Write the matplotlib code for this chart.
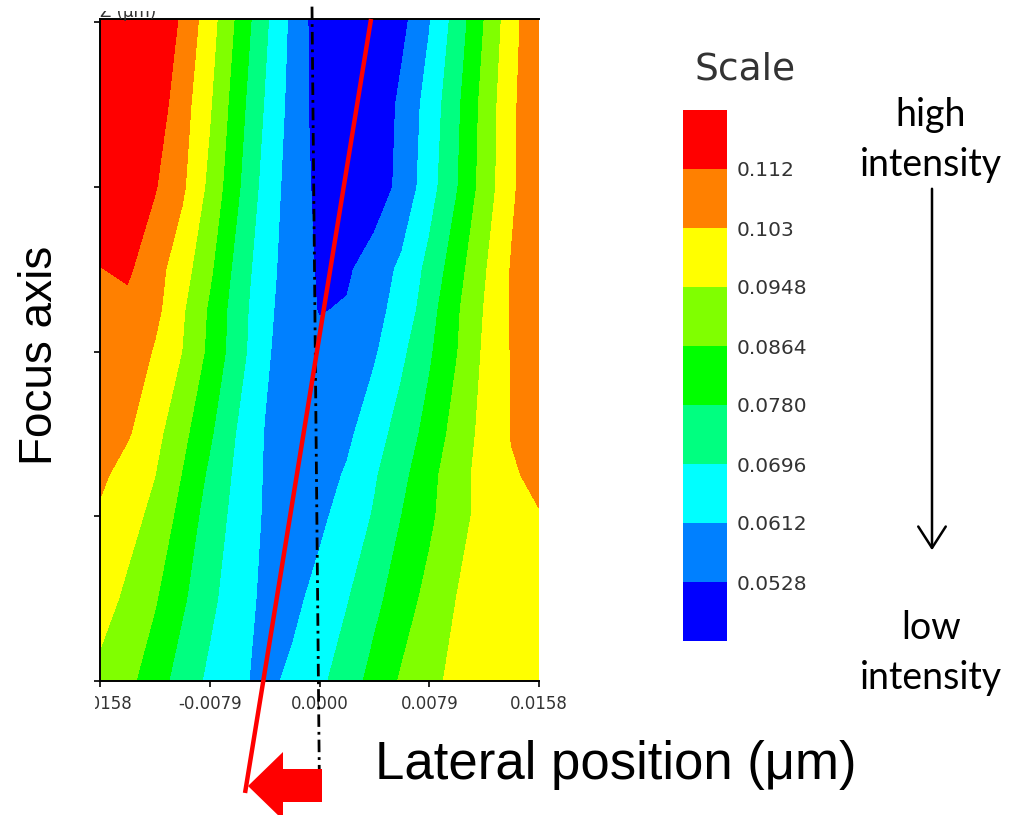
import numpy as np
import matplotlib
matplotlib.use("Agg")
import matplotlib.pyplot as plt
from matplotlib.patches import Polygon, Rectangle, FancyArrowPatch

# sampled grid: lateral position (um) and focus-axis position (tick units)
LATERAL = [-0.0158, -0.013825, -0.01185, -0.009875, -0.0079, -0.005925, -0.00395,
           -0.001975, 0.0, 0.001975, 0.00395, 0.005925, 0.0079, 0.009875,
           0.01185, 0.013825, 0.0158]
FOCUS = [0.0, 0.5, 1.0, 1.25, 1.5, 2.0, 2.254, 2.5, 3.0, 3.5, 4.02]

# intensity, in colour-band steps above 0.0528 (bottom row first)
BAND_ROWS = [
    [4.75, 4.24, 3.47, 2.55, 1.79, 1.19, 0.75, 1.19, 1.78, 2.51, 3.34, 4.12, 4.79, 5.2, 5.4, 5.55, 5.6],
    [5.4, 4.81, 4.09, 3.15, 2.23, 1.44, 0.8, 0.75, 1.30, 1.93, 2.73, 3.53, 4.29, 5.01, 5.3, 5.45, 5.6],
    [5.85, 5.33, 4.75, 3.64, 2.57, 1.65, 0.9, 0.55, 0.8, 1.38, 2.09, 3.01, 3.79, 4.67, 5.3, 5.6, 5.95],
    [6.2, 5.59, 5.01, 3.95, 2.81, 1.77, 0.93, 0.5, 0.6, 1.10, 1.89, 2.74, 3.68, 4.61, 5.35, 5.9, 6.2],
    [6.45, 6.1, 5.30, 4.26, 3.14, 1.92, 0.96, 0.45, 0.45, 0.8, 1.56, 2.43, 3.35, 4.38, 5.29, 6.04, 6.4],
    [6.75, 6.8, 5.89, 4.98, 3.76, 2.44, 1.16, 0.45, 0.25, 0.4, 0.88, 1.79, 2.85, 3.95, 5.14, 6.05, 6.6],
    [6.8, 6.75, 6.28, 5.12, 3.85, 2.48, 1.28, 0.45, -0.05, 0.08, 0.75, 1.3, 2.61, 3.85, 5.03, 6.1, 6.7],
    [6.97, 7.15, 6.38, 5.43, 4.17, 2.67, 1.37, 0.53, -0.12, -0.15, 0.49, 1.19, 2.28, 3.59, 4.88, 6.07, 6.8],
    [7.8, 7.5, 7.07, 6.16, 4.74, 3.16, 1.65, 0.54, -0.25, -0.7, -0.6, 0.30, 1.57, 2.93, 4.41, 5.81, 6.9],
    [8.6, 8.2, 7.56, 6.42, 5.10, 3.45, 1.94, 0.65, -0.45, -1.0, -0.9, 0.27, 1.36, 2.78, 4.32, 5.78, 6.9],
    [9.3, 8.8, 8.0, 6.81, 5.44, 3.82, 2.21, 0.76, -0.55, -1.3, -1.5, -0.3, 0.93, 2.39, 4.0, 5.6, 6.9],
]
LEVEL_BASE = 0.0528
LEVEL_STEP = 0.0084
SCALE_LABELS = ["0.0528", "0.0612", "0.0696", "0.0780", "0.0864", "0.0948", "0.103", "0.112"]
BAND_COLORS = ["#0000ff", "#0080ff", "#00ffff", "#00ff80", "#00ff00",
               "#80ff00", "#ffff00", "#ff8000", "#ff0000"]

X_TICKS = [-0.0158, -0.0079, 0.0, 0.0079, 0.0158]
X_TICK_LABELS = ["-0.0158", "-0.0079", "0.0000", "0.0079", "0.0158"]
Y_TICKS = [0, 1, 2, 3, 4]

# focus axis (dash-dot) and tilted beam axis (red), data coords
FOCUS_LINE_X = [-0.00054, 0.0]
FOCUS_LINE_Y = [4.095, -0.693]
BEAM_LINE_X = [0.00371, -0.00536]
BEAM_LINE_Y = [4.02, -0.68]

W, H = 1010, 815
GREY = "#333333"


def fx(px):
    return px / W


def fy(py):
    return 1 - py / H


fig = plt.figure(figsize=(W / 100, H / 100), dpi=100)
ax = fig.add_axes([fx(100), fy(681), fx(539) - fx(100), fy(19) - fy(681)])

X, Y = np.meshgrid(LATERAL, FOCUS)
intensity = LEVEL_BASE + LEVEL_STEP * np.array(BAND_ROWS)
inner = LEVEL_BASE + LEVEL_STEP * np.arange(len(SCALE_LABELS))
bounds = np.concatenate([[LEVEL_BASE - 3 * LEVEL_STEP], inner, [LEVEL_BASE + 10 * LEVEL_STEP]])
cs = ax.contourf(X, Y, intensity, levels=bounds, colors=BAND_COLORS)

ax.set_xlim(-0.0158, 0.0158)
ax.set_ylim(0, 4.02)
ax.set_xticks(X_TICKS)
ax.set_xticklabels(X_TICK_LABELS, fontfamily="DejaVu Sans", fontsize=12, color=GREY)
ax.set_yticks(Y_TICKS)
ax.set_yticklabels([])
ax.tick_params(direction="out", length=4, width=1.2, color="black", pad=6)
for side in ["left", "bottom", "top"]:
    ax.spines[side].set_linewidth(1.4)
ax.spines["right"].set_visible(False)

# partly cropped axis title above the plot
ax.text(fx(100), fy(17), "Z (\u00b5m)", transform=fig.transFigure, fontfamily="DejaVu Sans",
        fontsize=12, color=GREY, ha="left", va="baseline", zorder=3)

# white cover where the screenshot was cropped
ax.add_patch(Rectangle((0, fy(11)), 1, 1 - fy(11), transform=fig.transFigure,
                       facecolor="white", edgecolor="none", clip_on=False, zorder=4))
ax.add_patch(Rectangle((0, fy(725)), fx(95), fy(688) - fy(725), transform=fig.transFigure,
                       facecolor="white", edgecolor="none", clip_on=False, zorder=4))

ax.plot(FOCUS_LINE_X, FOCUS_LINE_Y, color="black", lw=2.0,
        linestyle=(0, (4.5, 1.8, 1.0, 1.8)), clip_on=False, zorder=5)
ax.plot(BEAM_LINE_X, BEAM_LINE_Y, color="#ff0000", lw=3.2, clip_on=False,
        solid_capstyle="butt", zorder=6)

# red block arrow under the plot
arrow_px = [(248, 786), (283, 752), (283, 769), (322, 769), (322, 802), (283, 802), (283, 820)]
fig.add_artist(Polygon([(fx(a), fy(b)) for a, b in arrow_px], closed=True,
                       facecolor="#ff0000", edgecolor="none", zorder=6))

# colour scale
cax = fig.add_axes([fx(683), fy(641), fx(727) - fx(683), fy(110) - fy(641)])
cb = fig.colorbar(cs, cax=cax, ticks=inner)
cb.set_ticklabels(SCALE_LABELS)
cb.outline.set_visible(False)
cax.tick_params(length=0, pad=7, labelsize=14.5, labelcolor=GREY)
for lab in cax.get_yticklabels():
    lab.set_fontfamily("DejaVu Sans")
fig.text(fx(745), fy(70), "Scale", fontfamily="DejaVu Sans", fontsize=27, color=GREY,
         ha="center", va="center")

for txt, py in [("high", 115), ("intensity", 165), ("low", 628), ("intensity", 678)]:
    fig.text(fx(931), fy(py), txt, fontfamily="Lato", fontsize=27, ha="center", va="center")
fig.add_artist(FancyArrowPatch(
    (fx(932), fy(186)), (fx(932), fy(553)), transform=fig.transFigure,
    arrowstyle="->,head_width=0.45,head_length=0.7", mutation_scale=22,
    color="black", lw=1.8))

fig.text(fx(40), fy(355), "Focus axis", fontfamily="Liberation Sans", fontsize=33,
         rotation=90, ha="center", va="center")
fig.text(fx(375), fy(765), "Lateral position (\u03bcm)", fontfamily="Liberation Sans",
         fontsize=38, ha="left", va="center")

fig.savefig("out.png", dpi=100)
